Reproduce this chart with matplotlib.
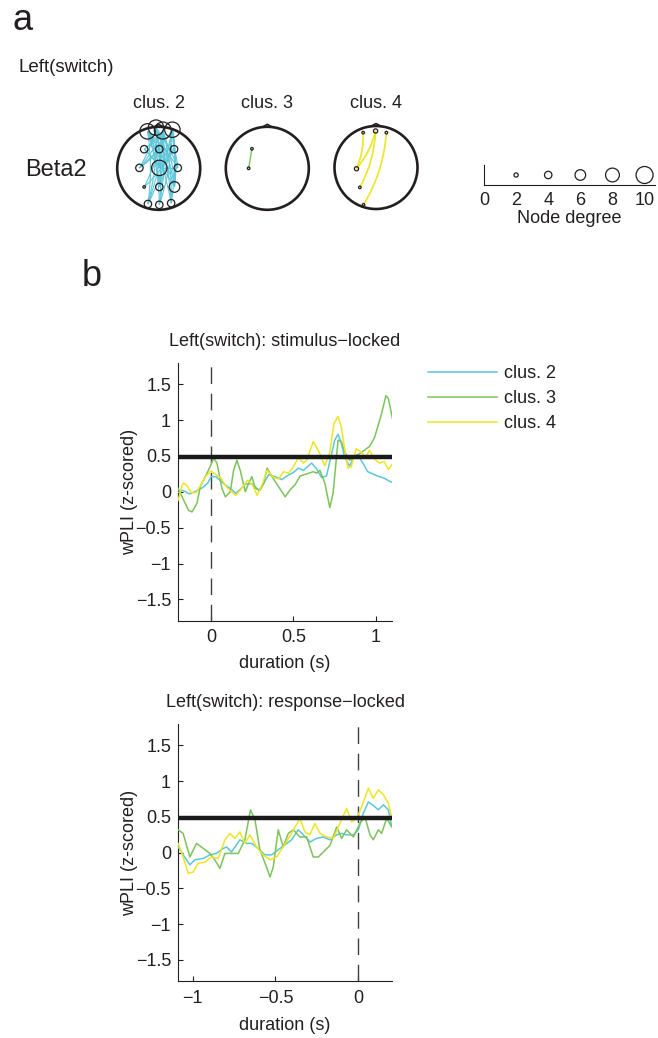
import matplotlib
matplotlib.use('Agg')
import matplotlib.pyplot as plt
import numpy as np
from matplotlib.path import Path
from matplotlib.patches import PathPatch, Circle

plt.rcParams['font.family'] = ['Liberation Sans', 'DejaVu Sans']
plt.rcParams['axes.unicode_minus'] = True
TXT = '#231f20'

# ---------------- data ----------------
cluster_names = ['clus. 2', 'clus. 3', 'clus. 4']
cluster_colors = ['#5CC6DA', '#7DC35B', '#EEE524']

# stimulus-locked traces
stim_c2_t = [-0.2, -0.17, -0.13, -0.09, -0.05, -0.02, 0.0, 0.03, 0.06, 0.09, 0.12, 0.15, 0.18, 0.21,
             0.25, 0.29, 0.32, 0.35, 0.39, 0.43, 0.46, 0.50, 0.53, 0.56, 0.59, 0.61, 0.64, 0.67, 0.70,
             0.72, 0.75, 0.77, 0.79, 0.81, 0.84, 0.87, 0.89, 0.92, 0.95, 0.99, 1.02, 1.05, 1.08, 1.10]
stim_c2_v = [-0.01, 0.02, -0.03, 0.01, 0.06, 0.12, 0.21, 0.21, 0.15, 0.09, 0.04, -0.02, 0.04, 0.11,
             0.11, 0.02, 0.12, 0.24, 0.21, 0.17, 0.22, 0.27, 0.33, 0.30, 0.36, 0.40, 0.32, 0.20, 0.22,
             0.42, 0.72, 0.80, 0.68, 0.48, 0.36, 0.50, 0.52, 0.40, 0.28, 0.24, 0.21, 0.19, 0.15, 0.13]

stim_c3_t = [-0.2, -0.165, -0.135, -0.115, -0.085, -0.065, -0.035, -0.005, 0.016, 0.036, 0.066, 0.087,
             0.117, 0.137, 0.157, 0.177, 0.208, 0.228, 0.248, 0.268, 0.298, 0.32, 0.34, 0.37, 0.41,
             0.45, 0.48, 0.51, 0.54, 0.58, 0.62, 0.64, 0.66, 0.69, 0.72, 0.74, 0.77, 0.79, 0.81, 0.84,
             0.87, 0.90, 0.93, 0.96, 0.99, 1.01, 1.035, 1.06, 1.075, 1.10]
stim_c3_v = [0.05, -0.12, -0.26, -0.28, -0.16, 0.07, 0.21, 0.35, 0.47, 0.40, 0.05, -0.07,
             0.00, 0.30, 0.44, 0.30, 0.00, 0.12, 0.21, 0.05, 0.02, 0.12, 0.33, 0.21, 0.07,
             -0.07, 0.03, 0.10, 0.22, 0.25, 0.28, 0.26, 0.30, 0.12, -0.22, -0.02, 0.72, 0.70, 0.56, 0.44,
             0.48, 0.53, 0.58, 0.63, 0.75, 0.90, 1.10, 1.34, 1.30, 1.02]

stim_c4_t = [-0.2, -0.17, -0.15, -0.12, -0.09, -0.06, -0.03, 0.0, 0.03, 0.06, 0.10, 0.15, 0.18, 0.22,
             0.25, 0.28, 0.31, 0.34, 0.38, 0.41, 0.44, 0.47, 0.50, 0.53, 0.56, 0.58, 0.62, 0.65, 0.69,
             0.72, 0.745, 0.77, 0.79, 0.81, 0.83, 0.85, 0.88, 0.91, 0.94, 0.96, 0.99, 1.02, 1.05, 1.075, 1.10]
stim_c4_v = [-0.12, 0.12, 0.10, -0.01, -0.01, 0.10, 0.22, 0.29, 0.24, 0.19, 0.05, -0.05, 0.03, 0.16,
             0.10, -0.05, 0.10, 0.30, 0.20, 0.18, 0.28, 0.26, 0.35, 0.48, 0.40, 0.44, 0.70, 0.58, 0.36,
             0.55, 0.95, 1.05, 0.90, 0.60, 0.33, 0.35, 0.60, 0.55, 0.48, 0.58, 0.46, 0.40, 0.42, 0.31, 0.39]

# response-locked traces
resp_c2_t = [-1.089, -1.059, -1.018, -0.988, -0.937, -0.897, -0.857, -0.816, -0.796, -0.766, -0.715,
             -0.675, -0.644, -0.604, -0.564, -0.523, -0.483, -0.442, -0.402, -0.362, -0.331, -0.291,
             -0.251, -0.210, -0.170, -0.129, -0.099, -0.069, -0.028, 0.002, 0.032, 0.063, 0.093, 0.123,
             0.154, 0.184, 0.204]
resp_c2_v = [0.08, -0.03, -0.17, -0.10, -0.08, -0.03, -0.01, 0.06, 0.08, 0.01, 0.18,
             0.13, 0.13, 0.06, -0.03, -0.03, 0.04, 0.11, 0.18, 0.32, 0.25, 0.15,
             0.20, 0.22, 0.18, 0.25, 0.27, 0.25, 0.25, 0.32, 0.55, 0.71, 0.66, 0.60,
             0.67, 0.60, 0.37]

resp_c3_t = [-1.089, -1.059, -1.018, -0.978, -0.937, -0.897, -0.867, -0.836, -0.806, -0.766, -0.725,
             -0.685, -0.651, -0.624, -0.594, -0.554, -0.533, -0.513, -0.483, -0.453, -0.422, -0.392,
             -0.352, -0.311, -0.271, -0.240, -0.210, -0.170, -0.129, -0.099, -0.069, -0.028, 0.012,
             0.042, 0.073, 0.093, 0.123, 0.143, 0.174, 0.204]
resp_c3_v = [0.32, 0.27, -0.06, 0.13, 0.06, -0.01, -0.10, -0.22, -0.01, -0.01, -0.01,
             0.18, 0.60, 0.46, 0.04, -0.20, -0.34, -0.20, 0.32, 0.08, 0.27, 0.32,
             0.22, 0.22, -0.06, -0.06, 0.01, 0.10, 0.36, 0.20, 0.32, 0.22, 0.41,
             0.50, 0.25, 0.18, 0.32, 0.27, 0.48, 0.36]

resp_c4_t = [-1.089, -1.059, -1.028, -0.998, -0.968, -0.927, -0.887, -0.846, -0.806, -0.776, -0.745,
             -0.715, -0.685, -0.655, -0.614, -0.574, -0.533, -0.493, -0.453, -0.402, -0.352, -0.321,
             -0.291, -0.261, -0.230, -0.190, -0.149, -0.119, -0.069, -0.038, -0.008, 0.022, 0.063,
             0.093, 0.123, 0.154, 0.184, 0.204]
resp_c4_v = [0.13, -0.06, -0.29, -0.27, -0.15, -0.13, -0.06, -0.08, 0.18, 0.27, 0.20,
             0.29, 0.13, 0.25, 0.08, -0.03, -0.10, -0.06, 0.08, 0.27, 0.48, 0.29,
             0.25, 0.41, 0.27, 0.22, 0.20, 0.36, 0.62, 0.43, 0.48, 0.64, 0.90,
             0.76, 0.88, 0.81, 0.69, 0.50]

threshold = 0.485
yticks = [-1.5, -1, -0.5, 0, 0.5, 1, 1.5]
ytick_labels = ['\u22121.5', '\u22121', '\u22120.5', '0', '0.5', '1', '1.5']
stim_xticks = [0, 0.5, 1]
stim_xtick_labels = ['0', '0.5', '1']
resp_xticks = [-1, -0.5, 0]
resp_xtick_labels = ['\u22121', '\u22120.5', '0']

# head networks (node positions in unit-head coordinates, node degree)
c2_nodes_x = [-0.27, -0.065, 0.10, 0.33, -0.35, 0.015, 0.37, -0.465, 0.015, 0.46, -0.35, 0.015, 0.38, -0.26, 0.015, 0.30]
c2_nodes_y = [0.89, 0.98, 0.91, 0.93, 0.46, 0.46, 0.46, 0.01, 0.01, 0.01, -0.45, -0.45, -0.45, -0.86, -0.88, -0.84]
c2_deg = [9, 9, 10, 9, 4, 4, 4, 4, 9, 4, 1, 4, 6, 4, 4, 4]
c2_edges = [(0, 13), (0, 14), (0, 12), (0, 8), (0, 11), (0, 15), (0, 5), (0, 9),
            (1, 13), (1, 14), (1, 15), (1, 12), (1, 8), (1, 11), (1, 7), (1, 9),
            (2, 13), (2, 14), (2, 15), (2, 12), (2, 8), (2, 10), (2, 7), (2, 4), (2, 11),
            (3, 13), (3, 14), (3, 15), (3, 12), (3, 8), (3, 11), (3, 6), (3, 7),
            (4, 12), (6, 12), (4, 8), (5, 8), (6, 8), (9, 8), (5, 7), (6, 9), (5, 6), (10, 6)]

c3_nodes_x = [-0.37, -0.45]
c3_nodes_y = [0.47, 0.0]
c3_deg = [1, 1]
c3_edges = [(0, 1)]

c4_nodes_x = [-0.31, -0.01, 0.25, -0.47, -0.39, -0.30]
c4_nodes_y = [0.84, 0.88, 0.84, -0.03, -0.48, -0.90]
c4_deg = [1, 2, 1, 2, 1, 1]
c4_edges = [(0, 3), (1, 3), (1, 4), (2, 5)]

legend_degrees = [2, 4, 6, 8, 10]
legend_ticks = [0, 2, 4, 6, 8, 10]

# ---------------- figure ----------------
W, H = 658, 1038
fig = plt.figure(figsize=(W / 100, H / 100), dpi=100)


def rect(l, t, r, b):
    return [l / W, 1 - b / H, (r - l) / W, (b - t) / H]


def deg_to_s(d):
    r_px = 0.8 * d + 0.5
    return (2 * r_px * 0.72) ** 2


# ---- panel a texts ----
fig.text(12 / W, 1 - 20 / H, 'a', fontsize=26, color=TXT, ha='left', va='center')
fig.text(18 / W, 1 - 68 / H, 'Left(switch)', fontsize=13.5, color=TXT, ha='left', va='center')
fig.text(25 / W, 1 - 170 / H, 'Beta2', fontsize=17, color=TXT, ha='left', va='center')
fig.text(82 / W, 1 - 277 / H, 'b', fontsize=26, color=TXT, ha='left', va='center')

head_centers = [(158.7, 168.3), (267.3, 168.3), (376.0, 167.5)]
head_r = 41.5
clusters = [(c2_nodes_x, c2_nodes_y, c2_deg, c2_edges, 0.08, 0.8),
            (c3_nodes_x, c3_nodes_y, c3_deg, c3_edges, 0.0, 1.0),
            (c4_nodes_x, c4_nodes_y, c4_deg, c4_edges, 0.12, 1.2)]

for k, ((cx, cy), (nx, ny, deg, edges, curv, elw)) in enumerate(zip(head_centers, clusters)):
    ext = 1.25 * head_r
    ax = fig.add_axes(rect(cx - ext, cy - ext, cx + ext, cy + ext))
    ax.set_xlim(-1.25, 1.25)
    ax.set_ylim(-1.25, 1.25)
    ax.set_aspect('equal')
    ax.axis('off')
    for (i, j) in edges:
        p1 = np.array([nx[i], ny[i]])
        p2 = np.array([nx[j], ny[j]])
        d = p2 - p1
        perp = np.array([-d[1], d[0]])
        if perp[0] < 0:
            perp = -perp
        ctrl = (p1 + p2) / 2 + curv * perp
        path = Path([p1, ctrl, p2], [Path.MOVETO, Path.CURVE3, Path.CURVE3])
        ax.add_patch(PathPatch(path, facecolor='none', edgecolor=cluster_colors[k], lw=elw, zorder=2))
    ax.add_patch(Circle((0, 0), 1.0, facecolor='none', edgecolor=TXT, lw=1.9, zorder=3))
    ax.plot([-0.12, 0, 0.12], [0.993, 1.06, 0.993], color=TXT, lw=1.2, zorder=3)
    ax.scatter(nx, ny, s=[deg_to_s(d) for d in deg], facecolors='none', edgecolors=TXT,
               linewidths=0.9, zorder=4)
    fig.text(cx / W, 1 - 103 / H, cluster_names[k], fontsize=13, color=TXT, ha='center', va='center')

# ---- node degree legend ----
lax = fig.add_axes(rect(484, 165, 655, 185))
lax.set_xlim(0, 10.65)
lax.set_ylim(0, 1)
lax.scatter(legend_degrees, [0.5] * len(legend_degrees), s=[deg_to_s(d) for d in legend_degrees],
            facecolors='none', edgecolors=TXT, linewidths=0.9, clip_on=False)
for sp in ['top', 'right']:
    lax.spines[sp].set_visible(False)
for sp in ['left', 'bottom']:
    lax.spines[sp].set_linewidth(0.8)
    lax.spines[sp].set_color(TXT)
lax.set_yticks([])
lax.set_xticks(legend_ticks)
lax.set_xticklabels([str(t) for t in legend_ticks])
lax.tick_params(axis='x', length=0, pad=5, labelsize=13, labelcolor=TXT)
lax.set_xlabel('Node degree', fontsize=13, color=TXT, labelpad=1)


# ---- time-series panels ----
def style_ts(ax, xlim, xticks, xlabels, title):
    ax.set_xlim(*xlim)
    ax.set_ylim(-1.8, 1.8)
    ax.set_yticks(yticks)
    ax.set_yticklabels(ytick_labels)
    ax.set_xticks(xticks)
    ax.set_xticklabels(xlabels)
    for sp in ['top', 'right']:
        ax.spines[sp].set_visible(False)
    for sp in ['left', 'bottom']:
        ax.spines[sp].set_linewidth(0.8)
        ax.spines[sp].set_color(TXT)
    ax.tick_params(direction='in', length=3.5, width=0.8, labelsize=13, labelcolor=TXT, color=TXT)
    ax.tick_params(axis='x', pad=6)
    ax.tick_params(axis='y', pad=5)
    ax.set_title(title, fontsize=13, color=TXT, pad=12)
    ax.set_ylabel('wPLI (z-scored)', fontsize=13, color=TXT, va='center')
    ax.set_xlabel('duration (s)', fontsize=13, color=TXT, va='center')


ax1 = fig.add_axes(rect(178, 362.6, 392, 621))
series1 = [(stim_c2_t, stim_c2_v), (stim_c3_t, stim_c3_v), (stim_c4_t, stim_c4_v)]
for (t, v), c, n in zip(series1, cluster_colors, cluster_names):
    ax1.plot(t, v, color=c, lw=1.1, label=n, zorder=3)
ax1.axhline(threshold, color='#1a1a1a', lw=3.2, zorder=4)
ax1.axvline(0, color='#404040', lw=1.0, dashes=(12, 7), zorder=2)
style_ts(ax1, (-0.2, 1.097), stim_xticks, stim_xtick_labels, 'Left(switch): stimulus\u2212locked')
ax1.yaxis.set_label_coords((130 - 178) / 214, 0.5)
ax1.xaxis.set_label_coords(0.5, -(663 - 621) / 258.4)

leg = ax1.legend(loc='upper left', bbox_to_anchor=(428 / W, 1 - 365 / H), bbox_transform=fig.transFigure,
                 frameon=False, fontsize=13, handlelength=3.8, handletextpad=0.4, labelspacing=0.45,
                 borderpad=0, borderaxespad=0)
for txt in leg.get_texts():
    txt.set_color(TXT)

ax2 = fig.add_axes(rect(178, 724, 392, 981.4))
series2 = [(resp_c2_t, resp_c2_v), (resp_c3_t, resp_c3_v), (resp_c4_t, resp_c4_v)]
for (t, v), c in zip(series2, cluster_colors):
    ax2.plot(t, v, color=c, lw=1.1, zorder=3)
ax2.axhline(threshold, color='#1a1a1a', lw=3.2, zorder=4)
ax2.axvline(0, color='#404040', lw=1.0, dashes=(12, 7), zorder=2)
style_ts(ax2, (-1.09, 0.206), resp_xticks, resp_xtick_labels, 'Left(switch): response\u2212locked')
ax2.yaxis.set_label_coords((130 - 178) / 214, 0.5)
ax2.xaxis.set_label_coords(0.5, -(1025 - 981.4) / 257.4)

fig.savefig('out.png', dpi=100)
